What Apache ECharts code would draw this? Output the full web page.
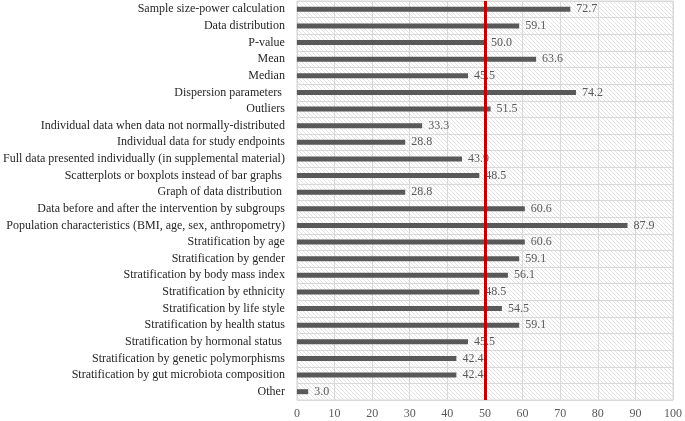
<!DOCTYPE html>
<html><head><meta charset="utf-8">
<script src="https://cdn.jsdelivr.net/npm/echarts@6/dist/echarts.min.js"></script>
<style>html,body{margin:0;padding:0;background:#fff}#c{width:685px;height:421px}</style>
</head><body><div id="c"></div>
<script>
const categories = [
  "Sample size-power calculation",
  "Data distribution",
  "P-value",
  "Mean",
  "Median",
  "Dispersion parameters ",
  "Outliers",
  "Individual data when data not normally-distributed",
  "Individual data for study endpoints",
  "Full data presented individually (in supplemental material)",
  "Scatterplots or boxplots instead of bar graphs ",
  "Graph of data distribution ",
  "Data before and after the intervention by subgroups",
  "Population characteristics (BMI, age, sex, anthropometry)",
  "Stratification by age",
  "Stratification by gender",
  "Stratification by body mass index",
  "Stratification by ethnicity",
  "Stratification by life style",
  "Stratification by health status",
  "Stratification by hormonal status ",
  "Stratification by genetic polymorphisms",
  "Stratification by gut microbiota composition",
  "Other"
];
const values = [72.7, 59.1, 50.0, 63.6, 45.5, 74.2, 51.5, 33.3, 28.8, 43.9, 48.5, 28.8, 60.6, 87.9, 60.6, 59.1, 56.1, 48.5, 54.5, 59.1, 45.5, 42.4, 42.4, 3.0];
const xTicks = [0, 10, 20, 30, 40, 50, 60, 70, 80, 90, 100];
const threshold = 50;

const pc = document.createElement('canvas');
pc.width = 4; pc.height = 4;
const g = pc.getContext('2d');
g.fillStyle = '#ffffff'; g.fillRect(0,0,4,4);
g.strokeStyle = '#dcdcdc'; g.lineWidth = 0.8;
g.beginPath(); g.moveTo(-1,-1); g.lineTo(5,5); g.stroke();
g.beginPath(); g.moveTo(3,-1); g.lineTo(5,1); g.stroke();
g.beginPath(); g.moveTo(-1,3); g.lineTo(1,5); g.stroke();

const chart = echarts.init(document.getElementById('c'), null, {renderer:'canvas'});
const font = '"Liberation Serif", "Times New Roman", serif';
chart.setOption({
  animation: false,
  backgroundColor: '#ffffff',
  grid: {left: 295, right: 10, top: 1, bottom: 21, show: true,
    backgroundColor: {image: pc, repeat: 'repeat'}, borderColor: '#d9d9d9', borderWidth: 1},
  xAxis: {
    type: 'value', min: xTicks[0], max: xTicks[xTicks.length-1], interval: 10,
    axisLine: {show: false}, axisTick: {show: false},
    axisLabel: {fontFamily: font, fontSize: 12, color: '#595959', margin: 8},
    splitLine: {show: true, lineStyle: {color: '#d9d9d9', width: 1}}
  },
  yAxis: {
    type: 'category', data: categories, inverse: true,
    axisLine: {show: false}, axisTick: {show: false},
    axisLabel: {fontFamily: font, fontSize: 12, color: '#262626', margin: 12},
    splitLine: {show: true, lineStyle: {color: '#d9d9d9', width: 1}}
  },
  series: [{
    type: 'bar', data: values, barWidth: 5,
    itemStyle: {color: '#595959'},
    label: {show: true, position: 'right', distance: 6, fontFamily: font, fontSize: 12, color: '#595959',
      formatter: p => p.value.toFixed(1)},
    markLine: {
      silent: true, symbol: 'none', label: {show: false},
      lineStyle: {color: '#c00000', width: 3, type: 'solid'},
      data: [{xAxis: threshold}]
    }
  }]
});
</script></body></html>
